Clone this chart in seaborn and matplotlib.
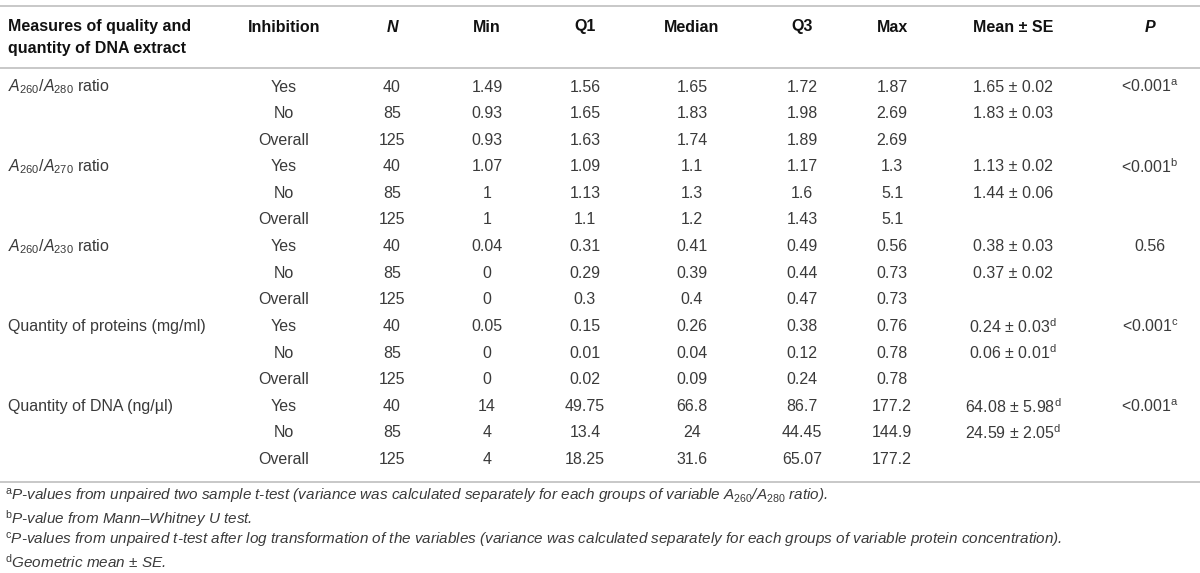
import matplotlib
matplotlib.use("Agg")
import matplotlib.pyplot as plt
import seaborn as sns

sns.set_theme(style="white")
plt.rcParams['font.family'] = ['Liberation Sans', 'DejaVu Sans']
plt.rcParams['mathtext.fontset'] = 'custom'
plt.rcParams['mathtext.rm'] = 'Liberation Sans'
plt.rcParams['mathtext.it'] = 'Liberation Sans:italic'
plt.rcParams['mathtext.bf'] = 'Liberation Sans:bold'

# Table data
header_first = ["Measures of quality and", "quantity of DNA extract"]
headers = ["Inhibition", "N", "Min", "Q1", "Median", "Q3", "Max", "Mean \u00b1 SE", "P"]
measures = [r"$A_{\mathrm{260}}$/$A_{\mathrm{280}}$ ratio",
            r"$A_{\mathrm{260}}$/$A_{\mathrm{270}}$ ratio",
            r"$A_{\mathrm{260}}$/$A_{\mathrm{230}}$ ratio",
            "Quantity of proteins (mg/ml)",
            "Quantity of DNA (ng/\u00b5l)"]
inhibition = ["Yes", "No", "Overall"]
n_vals = ["40", "85", "125"] * 5
min_vals = ["1.49", "0.93", "0.93", "1.07", "1", "1", "0.04", "0", "0",
            "0.05", "0", "0", "14", "4", "4"]
q1_vals = ["1.56", "1.65", "1.63", "1.09", "1.13", "1.1", "0.31", "0.29", "0.3",
           "0.15", "0.01", "0.02", "49.75", "13.4", "18.25"]
median_vals = ["1.65", "1.83", "1.74", "1.1", "1.3", "1.2", "0.41", "0.39", "0.4",
               "0.26", "0.04", "0.09", "66.8", "24", "31.6"]
q3_vals = ["1.72", "1.98", "1.89", "1.17", "1.6", "1.43", "0.49", "0.44", "0.47",
           "0.38", "0.12", "0.24", "86.7", "44.45", "65.07"]
max_vals = ["1.87", "2.69", "2.69", "1.3", "5.1", "5.1", "0.56", "0.73", "0.73",
            "0.76", "0.78", "0.78", "177.2", "144.9", "177.2"]
mean_se = ["1.65 \u00b1 0.02", "1.83 \u00b1 0.03", "",
           "1.13 \u00b1 0.02", "1.44 \u00b1 0.06", "",
           "0.38 \u00b1 0.03", "0.37 \u00b1 0.02", "",
           "0.24 \u00b1 0.03$^{\\mathrm{d}}$", "0.06 \u00b1 0.01$^{\\mathrm{d}}$", "",
           "64.08 \u00b1 5.98$^{\\mathrm{d}}$", "24.59 \u00b1 2.05$^{\\mathrm{d}}$", ""]
p_vals = [r"<0.001$^{\mathrm{a}}$", r"<0.001$^{\mathrm{b}}$", "0.56",
          r"<0.001$^{\mathrm{c}}$", r"<0.001$^{\mathrm{a}}$"]
footnotes = [r"$^{\mathrm{a}}$P-values from unpaired two sample t-test (variance was calculated separately for each groups of variable $A_{\mathrm{260}}$/$A_{\mathrm{280}}$ ratio).",
             r"$^{\mathrm{b}}$P-value from Mann–Whitney U test.",
             r"$^{\mathrm{c}}$P-values from unpaired t-test after log transformation of the variables (variance was calculated separately for each groups of variable protein concentration).",
             "$^{\\mathrm{d}}$Geometric mean \u00b1 SE."]

col_x = [8, 284, 392, 487, 585, 692, 802, 892, 1013, 1150]
row0, row_step = 87, 26.6
line_col = "#c8c8c8"
body_col = "#3a3a3a"
head_col = "#111111"
fs = 11.5
fs_note = 11

fig = plt.figure(figsize=(12, 5.73), dpi=100)
ax = fig.add_axes([0, 0, 1, 1])
ax.set_xlim(0, 1200)
ax.set_ylim(573, 0)
ax.axis("off")

# rules
for y in [6, 68, 482]:
    ax.axhline(y, color=line_col, lw=1.4)

# header
for k, line in enumerate(header_first):
    ax.text(col_x[0], 27 + k * 21, line, ha="left", va="center", fontsize=fs,
            fontweight="bold", color=head_col)
for j, h in enumerate(headers):
    style = "italic" if h in ("N", "P") else "normal"
    ax.text(col_x[j + 1], 27, h, ha="center", va="center", fontsize=fs,
            fontweight="bold", fontstyle=style, color=head_col)

# body
columns = [n_vals, min_vals, q1_vals, median_vals, q3_vals, max_vals, mean_se]
for i in range(15):
    y = row0 + i * row_step
    g = i // 3
    if i % 3 == 0:
        ax.text(col_x[0], y, measures[g], ha="left", va="center", fontsize=fs, color=body_col)
        ax.text(col_x[9], y, p_vals[g], ha="center", va="center", fontsize=fs, color=body_col)
    ax.text(col_x[1], y, inhibition[i % 3], ha="center", va="center", fontsize=fs, color=body_col)
    for j, col in enumerate(columns):
        if col[i]:
            ax.text(col_x[j + 2], y, col[i], ha="center", va="center", fontsize=fs, color=body_col)

# footnotes
for k, note in enumerate(footnotes):
    ax.text(5, 497 + k * 21.7, note, ha="left", va="center", fontsize=fs_note,
            fontstyle="italic", color=body_col)

fig.savefig("out.png", dpi=100)
